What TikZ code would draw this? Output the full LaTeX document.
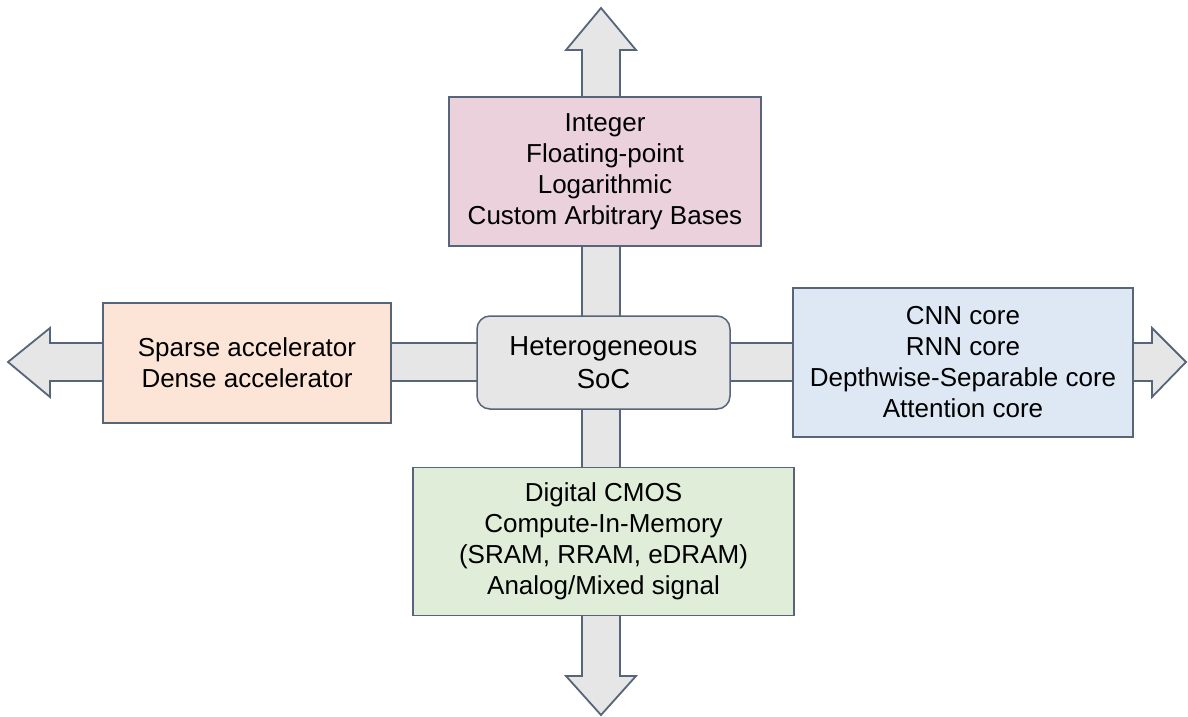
\documentclass[tikz,border=0pt]{standalone}
\usepackage{fontspec}
\setmainfont{Liberation Sans}
\definecolor{edge}{HTML}{56657A}
\definecolor{arrowfill}{HTML}{E6E6E6}
\definecolor{pinkfill}{HTML}{EAD1DC}
\definecolor{orangefill}{HTML}{FCE5D7}
\definecolor{bluefill}{HTML}{DDE8F4}
\definecolor{greenfill}{HTML}{E0EDD8}
\definecolor{socfill}{HTML}{E6E6E6}
\tikzset{
  box/.style={draw=edge, line width=1.5pt, inner sep=0pt, align=center,
    font=\fontsize{26}{31}\selectfont, text=black},
  bigarrow/.style={draw=edge, fill=arrowfill, line width=1.8pt, line join=miter},
}
\begin{document}
\begin{tikzpicture}[x=1pt,y=-1pt]
\useasboundingbox (0,0) rectangle (1188,717);
% vertical double arrow
\coordinate (vt) at (601,8);
\coordinate (vb) at (601,715);
\draw[bigarrow] (vt) -- (636,50) -- (620,50) -- (620,676) -- (636,676) -- (vb)
  -- (566,676) -- (582,676) -- (582,50) -- (566,50) -- cycle;
% horizontal double arrow
\coordinate (hl) at (8,362);
\coordinate (hr) at (1186,362);
\draw[bigarrow] (hl) -- (50,328) -- (50,343) -- (1152,343) -- (1152,328) -- (hr)
  -- (1152,397) -- (1152,381) -- (50,381) -- (50,397) -- cycle;
% boxes
\node[box, fill=pinkfill, minimum width=312pt, minimum height=149pt] (top) at (605,171.5)
  {Integer\\Floating-point\\Logarithmic\\Custom Arbitrary Bases};
\node[box, fill=orangefill, minimum width=288pt, minimum height=120pt] (left) at (247,363)
  {Sparse accelerator\\Dense accelerator};
\node[box, fill=bluefill, minimum width=340pt, minimum height=149pt] (right) at (963,362.5)
  {CNN core\\RNN core\\Depthwise-Separable core\\Attention core};
\node[box, fill=greenfill, minimum width=381pt, minimum height=148pt] (bottom) at (603.5,541.5)
  {Digital CMOS\\Compute-In-Memory\\(SRAM, RRAM, eDRAM)\\Analog/Mixed signal};
\node[box, fill=socfill, rounded corners=13pt, minimum width=253pt, minimum height=93pt,
  font=\fontsize{27.5}{33}\selectfont] (soc) at (603.5,362.5)
  {Heterogeneous\\SoC};
\end{tikzpicture}
\end{document}
